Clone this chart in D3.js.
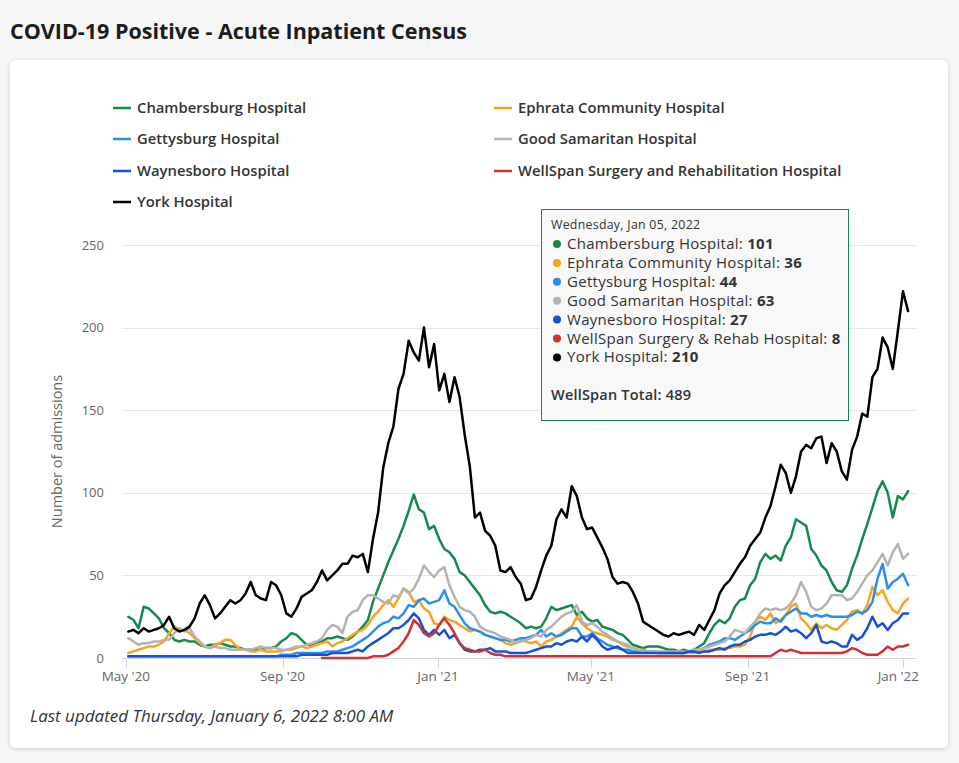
<!DOCTYPE html>
<html><head><meta charset="utf-8">
<script src="https://cdn.jsdelivr.net/npm/d3@7"></script>
<style>
html,body{margin:0;padding:0;background:#f6f6f6;}
svg{display:block;font-family:"Open Sans",sans-serif;}
</style></head><body>
<svg id="c" width="959" height="763"></svg>
<script>
// ---------------- DATA ----------------
const seriesNames = ["Chambersburg Hospital","Ephrata Community Hospital","Gettysburg Hospital","Good Samaritan Hospital","Waynesboro Hospital","WellSpan Surgery and Rehabilitation Hospital","York Hospital"];
const tooltipNames = ["Chambersburg Hospital","Ephrata Community Hospital","Gettysburg Hospital","Good Samaritan Hospital","Waynesboro Hospital","WellSpan Surgery & Rehab Hospital","York Hospital"];
const firstDate = "2020-05-03";   // one sample every 4 days
const sampleStepDays = 4;
const tooltipDate = "Wednesday, Jan 05, 2022";

const chambersburg = [25,23,18,31,30,27,24,18,15,11, 10,11,10,10,8,7,8,8,9,8, 7,7,6,5,5,5,5,6,6,7,
 10,12,15,14,11,8,8,9,10,12, 12,13,12,11,13,16,19,23,34,42, 50,58,65,72,80,89,99,90,88,78,
 80,72,66,64,60,52,50,46,42,38, 32,28,27,28,27,25,23,21,18,19, 18,19,24,31,29,30,31,32,26,28,
 24,22,23,19,18,17,15,14,11,8, 7,6,7,7,7,6,5,5,4,5, 4,5,7,9,15,20,23,21,24,31,
 35,36,44,48,58,63,60,62,59,68, 73,84,82,80,66,62,56,53,46,41, 40,44,54,62,72,81,91,101,107,100, 85,98,96,101];
const ephrata = [3,4,5,6,7,7,8,10,15,19, 17,17,15,12,9,7,6,8,9,11, 11,8,5,5,4,4,5,4,4,4,
 4,5,5,6,7,6,7,8,9,10, 7,9,10,12,14,16,17,20,25,28, 32,35,31,36,42,40,34,35,30,28,
 21,20,25,23,22,20,18,16,17,16, 14,13,12,11,9,8,9,11,10,9, 10,7,10,11,13,15,17,19,25,21,
 18,16,15,14,13,11,10,8,7,6, 5,5,4,4,3,3,3,3,3,3, 3,3,4,4,5,5,5,6,6,7,
 7,8,13,22,25,23,27,21,23,26, 31,33,24,21,17,21,18,20,18,17, 20,23,28,29,27,32,43,38,41,34, 29,27,33,36];
const gettysburg = [1,1,1,1,1,1,1,1,1,1, 1,1,1,1,1,1,1,1,1,1, 1,1,1,1,1,1,1,1,1,1,
 2,2,2,3,3,3,3,3,3,4, 4,4,5,6,7,9,11,13,16,19, 21,22,25,24,27,32,31,35,36,33,
 34,35,41,33,31,26,21,18,17,16, 14,13,12,11,11,10,11,12,12,13, 14,17,13,15,13,14,16,18,18,13,
 13,15,12,10,8,7,6,5,5,4, 4,4,4,4,3,3,3,3,3,3, 4,4,5,6,8,9,10,12,12,11,
 13,15,17,20,22,21,21,24,22,26, 28,30,27,27,25,26,25,26,25,25, 25,25,26,28,27,29,34,48,57,42, 46,48,51,44];
const goodSamaritan = [12,10,8,9,9,10,10,11,11,15, 18,16,18,13,10,7,6,7,6,6, 5,5,5,5,5,6,7,6,6,6,
 5,5,6,7,7,8,9,10,12,17, 20,19,15,25,28,29,35,38,38,36, 34,33,38,37,42,39,42,48,56,52,
 49,53,55,44,37,31,29,28,25,19, 17,16,15,13,12,11,9,10,11,12, 14,13,17,19,22,25,27,28,32,22,
 20,21,19,16,14,12,10,9,8,6, 5,4,4,4,4,4,4,4,4,4, 4,5,5,6,7,8,9,10,13,17,
 16,15,19,22,27,30,29,30,29,30, 33,38,46,40,31,29,30,33,38,38, 38,35,36,40,45,50,53,58,63,56, 64,69,60,63];
const waynesboro = [1,1,1,1,1,1,1,1,1,1, 1,1,1,1,1,1,1,1,1,1, 1,1,1,1,1,1,1,1,1,1,
 1,1,1,1,2,2,2,2,2,2, 3,3,3,3,4,5,4,7,9,11, 13,15,18,18,20,23,27,24,17,14,
 17,14,17,12,14,9,5,4,4,5, 5,6,4,4,4,3,3,3,3,4, 5,6,7,7,9,8,10,11,10,13,
 10,14,11,7,5,6,7,5,3,3, 3,3,3,3,3,3,3,3,3,3, 4,4,3,4,4,5,6,5,7,8,
 8,10,11,13,14,14,15,14,16,19, 16,17,15,12,15,20,10,9,10,9, 7,7,14,11,13,18,25,19,21,17, 21,23,27,27];
const wellspanSurgery = [null,null,null,null,null,null,null,null,null,null, null,null,null,null,null,null,null,null,null,null,
 null,null,null,null,null,null,null,null,null,null, null,null,null,null,null,null,null,null,
 0,0,0,0,0,0,0,0,0,0,1,1,1, 2,4,6,10,15,23,20,15,13,
 15,20,24,20,15,9,6,5,4,4, 5,3,2,
 2,1,1,1,1,1,1,1,1,1,1,1,1,1,1,1,1,1,1,1,1,1,1,1,1,1,1,
 1,1,1,1,1,1,1,1,1,1,1,1,1,1,1,1,1,1,1,1,1,1,1,1,1,1,1,
 3,5,4,5,4,3,3,3,3,3,3,3,3, 3,4,6,5,3,2,2,2,4,7, 5,7,7,8];
const york = [16,17,15,18,16,17,18,20,25,18, 16,17,19,24,33,38,32,24,27,31, 35,33,35,39,46,38,36,35,46,44,
 38,27,25,30,37,39,41,46,53,47, 50,53,57,57,62,61,63,52,72,88, 115,130,140,163,172,192,185,180,200,176,
 190,162,172,155,170,158,135,116,85,88, 77,74,68,53,52,55,49,45,35,36, 43,53,62,68,84,90,85,104,98,85,
 78,79,73,67,60,49,45,46,45,40, 33,22,20,18,16,14,13,15,14,15, 16,14,20,17,23,29,39,44,47,52,
 57,61,68,72,76,85,92,104,117,112, 100,110,125,129,127,133,134,118,130,125, 113,108,126,134,148,146,170,175,194,188, 175,198,222,210];

const xTickDates = ["2020-05-01","2020-09-01","2021-01-01","2021-05-01","2021-09-01","2022-01-01"];
const xTickLabels = ["May '20","Sep '20","Jan '21","May '21","Sep '21","Jan '22"];
const yTicks = [0,50,100,150,200,250];

// ---------------- STYLE ----------------
const colors = ["#148a4e","#f7a51e","#2b8ff0","#b3b3b3","#1552d4","#d0332e","#000000"];
const allSeries = [chambersburg, ephrata, gettysburg, goodSamaritan, waynesboro, wellspanSurgery, york];

const svg = d3.select("#c");
const defs = svg.append("defs");
const f = defs.append("filter").attr("id","sh").attr("x","-5%").attr("y","-5%").attr("width","110%").attr("height","110%");
f.append("feDropShadow").attr("dx",0).attr("dy",1).attr("stdDeviation",2).attr("flood-color","#000").attr("flood-opacity",0.18);

// title
svg.append("text").attr("x",10).attr("y",39).attr("font-size",21.5).attr("font-weight",700)
  .attr("fill","#1c1c1c").text("COVID-19 Positive - Acute Inpatient Census");

// card
svg.append("rect").attr("x",10).attr("y",60).attr("width",938).attr("height",688).attr("rx",6)
  .attr("fill","#fff").attr("filter","url(#sh)");

// scales
const parse = d3.utcParse("%Y-%m-%d");
const start = parse(firstDate);
const dates = york.map((_, i) => d3.utcDay.offset(start, i * sampleStepDays));
const x = d3.scaleUtc().domain([parse("2020-04-28"), parse("2022-01-12")]).range([122, 917]);
const y = d3.scaleLinear().domain([0, 250]).range([658, 245]);

// gridlines
const g = svg.append("g");
g.selectAll("line.grid").data(yTicks.filter(t => t > 0)).join("line")
  .attr("x1", 122).attr("x2", 917).attr("y1", d => Math.round(y(d)) + 0.5).attr("y2", d => Math.round(y(d)) + 0.5)
  .attr("stroke", "#e6e6e6").attr("stroke-width", 1);

// y labels
g.selectAll("text.yl").data(yTicks).join("text")
  .attr("x", 104).attr("y", d => y(d) + 4.5).attr("text-anchor", "end")
  .attr("font-size", 13).attr("fill", "#666").text(d => d);

// y title
svg.append("text").attr("transform", `translate(62,${y(125)}) rotate(-90)`)
  .attr("text-anchor", "middle").attr("font-size", 14.5).attr("fill", "#666").text("Number of admissions");

// x axis
g.append("line").attr("x1", 122).attr("x2", 917).attr("y1", 658.5).attr("y2", 658.5).attr("stroke", "#ccd6eb");
const xt = xTickDates.map(parse);
g.selectAll("line.xt").data(xt).join("line")
  .attr("x1", d => Math.round(x(d)) + 0.5).attr("x2", d => Math.round(x(d)) + 0.5)
  .attr("y1", 658).attr("y2", 668).attr("stroke", "#ccd6eb");
g.selectAll("text.xl").data(xt).join("text")
  .attr("x", (d, i) => i === xt.length - 1 ? 919 : x(d))
  .attr("text-anchor", (d, i) => i === xt.length - 1 ? "end" : "middle")
  .attr("y", 681).attr("font-size", 13.5).attr("fill", "#666").text((d, i) => xTickLabels[i]);

// lines
const line = d3.line().defined(d => d != null).x((d, i) => x(dates[i])).y(d => y(d));
const lg = svg.append("g");
allSeries.forEach((s, k) => {
  lg.append("path").attr("d", line(s)).attr("fill", "none").attr("stroke", colors[k])
    .attr("stroke-width", 2.5).attr("stroke-linejoin", "round").attr("stroke-linecap", "round");
});

// legend
const legPos = [[113,108],[494,108],[113,139],[494,139],[113,171],[494,171],[113,202]];
const leg = svg.append("g");
seriesNames.forEach((n, k) => {
  const [lx, ly] = legPos[k];
  leg.append("line").attr("x1", lx).attr("x2", lx + 18).attr("y1", ly).attr("y2", ly)
    .attr("stroke", colors[k]).attr("stroke-width", 2.5);
  leg.append("text").attr("x", lx + 24).attr("y", ly + 5).attr("font-size", 14.8).attr("font-weight", 600)
    .attr("fill", "#333").text(n);
});

// tooltip
const tt = svg.append("g");
tt.append("rect").attr("x", 541.5).attr("y", 209.5).attr("width", 307).attr("height", 211)
  .attr("fill", "#f7f7f7").attr("fill-opacity", 0.92).attr("stroke", colors[0]).attr("stroke-width", 1);
tt.append("text").attr("x", 551).attr("y", 229).attr("font-size", 12.3).attr("letter-spacing", 0.3)
  .attr("fill", "#333").text(tooltipDate);
const last = allSeries.map(s => s[s.length - 1]);
tooltipNames.forEach((n, k) => {
  const cy = 244 + k * 18.9;
  tt.append("circle").attr("cx", 557).attr("cy", cy).attr("r", 4).attr("fill", colors[k]);
  const t = tt.append("text").attr("x", 567).attr("y", cy + 5).attr("font-size", 15).attr("letter-spacing", 0.28)
    .attr("fill", "#333");
  t.append("tspan").text(n + ": ");
  t.append("tspan").attr("font-weight", 700).text(last[k]);
});
tt.append("text").attr("x", 551).attr("y", 400).attr("font-size", 14.5).attr("letter-spacing", 0.2)
  .attr("font-weight", 600).attr("fill", "#333")
  .text("WellSpan Total: " + d3.sum(last));

// footer
svg.append("text").attr("x", 30).attr("y", 722).attr("font-size", 17).attr("font-style", "italic")
  .attr("fill", "#333").text("Last updated Thursday, January 6, 2022 8:00 AM");
</script>
</body></html>
